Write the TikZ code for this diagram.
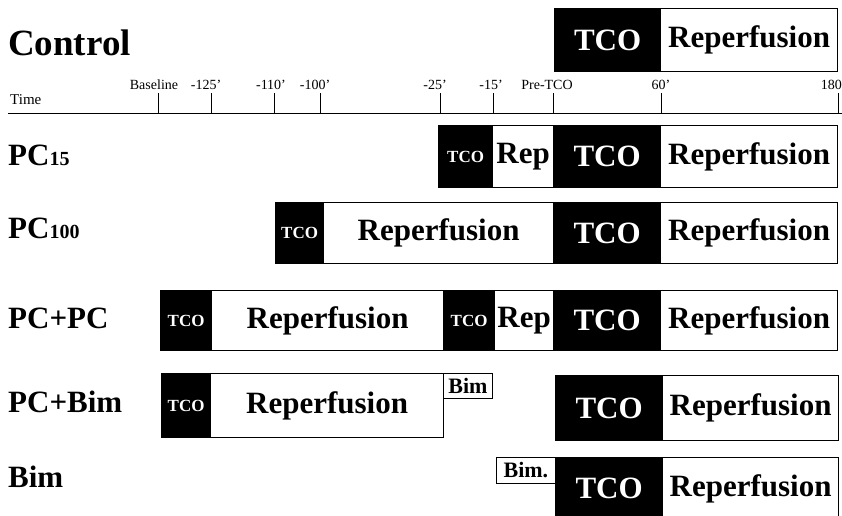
\documentclass[tikz,border=0pt]{standalone}
\usepackage{fontspec}
\setmainfont{Liberation Serif}
\usetikzlibrary{positioning}

\newcommand{\fsz}[1]{\fontsize{#1}{#1}\selectfont}

\begin{document}
\begin{tikzpicture}[
  x=1pt, y=-1pt,
  rowlabel/.style={anchor=west, inner sep=0, font=\bfseries\fsz{31}},
  ticklabel/.style={anchor=base, inner sep=0, font=\fsz{14}},
  tco/.style={draw=black, fill=black, text=white, line width=1.2pt, anchor=north west, inner sep=0, font=\bfseries\fsz{31}},
  tcosmall/.style={tco, font=\bfseries\fsz{17}},
  rep/.style={draw=black, fill=white, line width=1.2pt, anchor=north west, inner sep=0, font=\bfseries\fsz{31}},
  bimbox/.style={draw=black, fill=white, line width=0.8pt, anchor=north west, inner sep=0, font=\bfseries\fsz{22}},
  tick/.style={line width=1pt}
]
\useasboundingbox (0,0) rectangle (842,515);

% Row labels
\node[rowlabel, font=\bfseries\fsz{37}] (lcontrol) at (8,43) {Control};
\node[rowlabel] (lpc15) at (8,155) {PC\fsz{20}15};
\node[rowlabel] (lpc100) at (8,228) {PC\fsz{20}100};
\node[rowlabel] (lpcpc) at (8,318) {PC+PC};
\node[rowlabel] (lpcbim) at (8,402) {PC+Bim};
\node[rowlabel] (lbim) at (8,477) {Bim};

% Time axis
\node[anchor=base west, inner sep=0, font=\fsz{15}] (ltime) at (10,104) {Time};
\coordinate (axisl) at (8,113);
\coordinate (axisr) at (842,113);
\draw[tick] (axisl) -- (axisr);
\foreach \x/\lx/\txt in {158/154/Baseline, 211/206/-125', 274/271/-110', 320/315/-100',
                         440/435/-25', 493/491/-15', 553/547/Pre-TCO, 661/661/60'}{
  \coordinate (t\x) at (\x,113);
  \draw[tick] (t\x) -- ++(0,-20);
  \node[ticklabel] (tl\x) at (\lx,89) {\txt};
}
\coordinate (t838) at (838,113);
\draw[tick] (t838) -- ++(0,-20);
\node[ticklabel, anchor=base east] (tl838) at (842,89) {180};

% Control
\node[tco, minimum width=106pt, minimum height=63pt] (ctco) at (554,8) {TCO};
\node[rep, minimum width=177pt, minimum height=63pt] (crep) at (660,8) {Reperfusion};

% PC15
\node[tcosmall, minimum width=54pt, minimum height=62pt] (atco1) at (438,125) {TCO};
\node[rep, minimum width=61pt, minimum height=62pt] (arep1) at (492,125) {Rep};
\node[tco, minimum width=107pt, minimum height=62pt] (atco) at (553,125) {TCO};
\node[rep, minimum width=177pt, minimum height=62pt] (arep) at (660,125) {Reperfusion};

% PC100
\node[tcosmall, minimum width=48pt, minimum height=61pt] (btco1) at (275,202) {TCO};
\node[rep, minimum width=230pt, minimum height=61pt] (brep1) at (323,202) {Reperfusion};
\node[tco, minimum width=107pt, minimum height=61pt] (btco) at (553,202) {TCO};
\node[rep, minimum width=177pt, minimum height=61pt] (brep) at (660,202) {Reperfusion};

% PC+PC
\node[tcosmall, minimum width=51pt, minimum height=60pt] (ptco1) at (160,290) {TCO};
\node[rep, minimum width=232pt, minimum height=60pt] (prep1) at (211,290) {Reperfusion};
\node[tcosmall, minimum width=51pt, minimum height=60pt] (ptco2) at (443,290) {TCO};
\node[rep, minimum width=59pt, minimum height=60pt] (prep2) at (494,290) {Rep};
\node[tco, minimum width=107pt, minimum height=60pt] (ptco) at (553,290) {TCO};
\node[rep, minimum width=177pt, minimum height=60pt] (prep) at (660,290) {Reperfusion};

% PC+Bim
\node[tcosmall, minimum width=49pt, minimum height=64pt] (qtco1) at (161,373) {TCO};
\node[rep, minimum width=233pt, minimum height=64pt] (qrep1) at (210,373) {Reperfusion};
\node[bimbox, minimum width=49pt, minimum height=25pt] (qbim) at (443,373) {Bim};
\node[tco, minimum width=107pt, minimum height=65pt] (qtco) at (555,375) {TCO};
\node[rep, minimum width=176pt, minimum height=65pt] (qrep) at (662,375) {Reperfusion};

% Bim
\node[bimbox, minimum width=59pt, minimum height=26pt] (mbim) at (496,457) {Bim.};
\node[tco, minimum width=107pt, minimum height=62pt] (mtco) at (555,457) {TCO};
\node[rep, minimum width=176pt, minimum height=62pt] (mrep) at (662,457) {Reperfusion};

\end{tikzpicture}
\end{document}
